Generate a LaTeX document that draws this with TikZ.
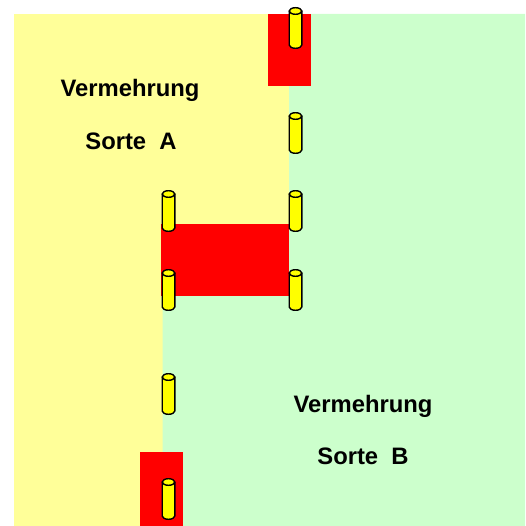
\documentclass[tikz,border=0pt]{standalone}
\usepackage{fontspec}
\setmainfont{Liberation Sans}
\definecolor{fieldA}{HTML}{FFFF99}
\definecolor{fieldB}{HTML}{CCFFCC}
\definecolor{strip}{HTML}{FF0000}
\definecolor{postfill}{HTML}{FFFF00}
\tikzset{
  postline/.style={draw=black, fill=postfill, line width=1.4pt, line join=round},
  label/.style={font=\bfseries\fontsize{23.8}{28}\selectfont, inner sep=0pt, anchor=base},
  post/.pic={
    \path[postline] (-6.3,4) -- (-6.3,38) arc[start angle=180, end angle=0, x radius=6.3, y radius=3.3] -- (6.3,4) -- cycle;
    \path[postline] (0,4) ellipse[x radius=6.3, y radius=3.3];
  }
}
\begin{document}
\begin{tikzpicture}[x=1pt, y=-1pt]
\useasboundingbox (0,0) rectangle (525,526);
% fields
\fill[fieldA] (14,14) rectangle (525,526);
\fill[fieldB] (289,14) -- (525,14) -- (525,526) -- (162.5,526) -- (162.5,260) -- (289,260) -- cycle;
% isolation strips
\fill[strip] (268,14) rectangle (311,86);
\fill[strip] (161,224) rectangle (288.5,296);
\fill[strip] (140,452) rectangle (183,526);
% posts
\pic at (295.5,7) {post};
\pic at (295.5,112) {post};
\pic at (295.5,190) {post};
\pic at (295.5,269) {post};
\pic at (168.5,190) {post};
\pic at (168.5,269) {post};
\pic at (168.5,373) {post};
\pic at (168.5,478) {post};
% labels
\node[label] (a1) at (130,97) {Vermehrung};
\node[label] (a2) at (131,150) {Sorte\ \ A};
\node[label] (b1) at (363,412) {Vermehrung};
\node[label] (b2) at (363,464) {Sorte\ \ B};
\end{tikzpicture}
\end{document}
